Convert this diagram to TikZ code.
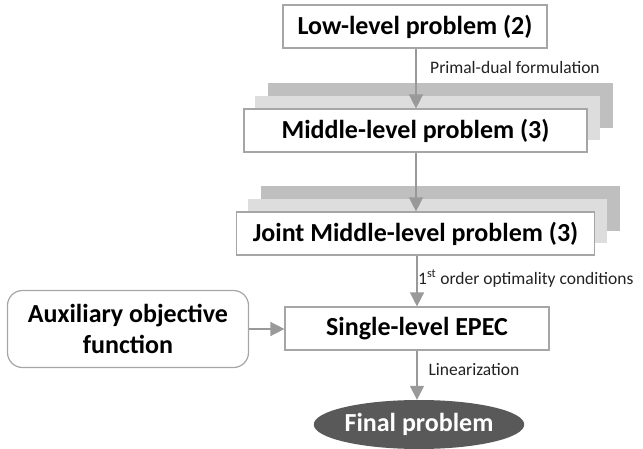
\documentclass[tikz,border=0pt]{standalone}
\usepackage{fontspec}
\setmainfont{Carlito}
\usetikzlibrary{arrows.meta,backgrounds,shapes.geometric}

\definecolor{edgegray}{HTML}{A6A6A6}
\definecolor{arrowgray}{HTML}{999999}
\definecolor{stackdark}{HTML}{BFBFBF}
\definecolor{stacklight}{HTML}{DDDDDD}
\definecolor{finalfill}{HTML}{595959}
\definecolor{labeltext}{HTML}{222222}

\tikzset{
  stepbox/.style={draw=edgegray, line width=1.2pt, fill=white, inner sep=0pt,
    minimum height=43pt, font=\fontsize{26}{31}\selectfont\bfseries},
  auxbox/.style={stepbox, rounded corners=15pt, align=center,
    font=\fontsize{26}{31.3}\selectfont\bfseries},
  finalnode/.style={ellipse, fill=finalfill, text=white, inner sep=0pt,
    minimum width=185pt, minimum height=49pt, font=\fontsize{26}{31}\selectfont\bfseries},
  flow/.style={draw=arrowgray, line width=1.5pt,
    -{Triangle[length=14pt,width=14pt]}},
  steplabel/.style={anchor=base west, inner sep=0pt, text=labeltext,
    font=\fontsize{17.5}{20}\selectfont},
}

\begin{document}
\begin{tikzpicture}[x=1pt,y=-1pt]
\useasboundingbox (0,0) rectangle (643,449);

% main chain of problems
\node[stepbox, minimum width=264pt] (low)   at (415,26.5)  {Low-level problem (2)};
\node[stepbox, minimum width=343pt] (mid)   at (415.5,130.5) {Middle-level problem (3)};
\node[stepbox, minimum width=358pt] (joint) at (415.5,233.5) {Joint Middle-level problem (3)};
\node[stepbox, minimum width=264pt] (epec)  at (417,328.5) {Single-level EPEC};
\node[auxbox, minimum width=241pt, minimum height=77pt] (aux) at (128,329) {Auxiliary objective\\function};
\node[finalnode] (final) at (419,424.5) {Final problem};

% stacked copies behind the middle-level boxes
\begin{scope}[on background layer]
  \foreach \b in {mid,joint}{
    \fill[stackdark]  ([xshift=25pt,yshift=25pt]\b.south west) rectangle ([xshift=25pt,yshift=25pt]\b.north east);
    \fill[stacklight] ([xshift=12pt,yshift=12.5pt]\b.south west) rectangle ([xshift=12pt,yshift=12.5pt]\b.north east);
  }
\end{scope}

% connectors
\draw[flow] (low.south -| 416,0) -- (mid.north -| 416,0);
\draw[flow] (mid.south -| 416,0) -- (joint.north -| 416,0);
\draw[flow] (joint.south -| 417,0) -- (epec.north -| 417,0);
\draw[flow] (epec.south -| 417,0) -- (final.north -| 417,0);
\draw[flow] (aux.east) -- (epec.west |- aux.east);

% transformation labels
\node[steplabel] (lbl1) at (430,73.3) {Primal-dual formulation};
\node[steplabel] (lbl2) at (418,284) {1\textsuperscript{st} order optimality conditions};
\node[steplabel] (lbl3) at (428.3,375) {Linearization};
\end{tikzpicture}
\end{document}
